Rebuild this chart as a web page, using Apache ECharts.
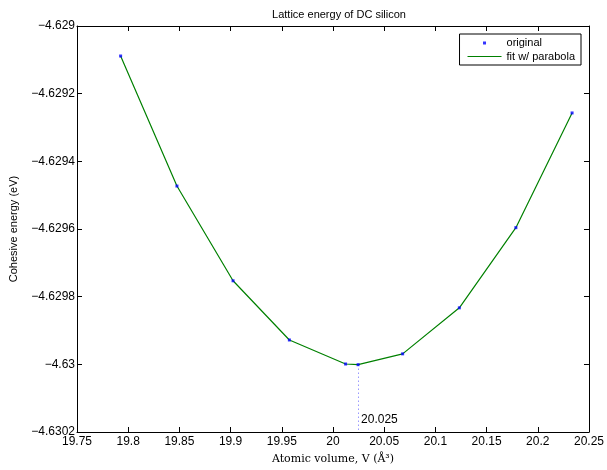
<!DOCTYPE html>
<html>
<head>
<meta charset="utf-8">
<script src="https://cdn.jsdelivr.net/npm/echarts@6/dist/echarts.min.js"></script>
<style>
  html, body { margin: 0; padding: 0; background: #fff; }
  #chart { width: 607px; height: 470px; }
</style>
</head>
<body>
<div id="chart"></div>
<script>
// volumes (A^3) and cohesive energies (eV)
const volumes = [19.7926, 19.8476, 19.9024, 19.9574, 20.0123, 20.0245, 20.068, 20.1234, 20.1786, 20.2335];
const energies = [-4.6290887, -4.6294730, -4.6297530, -4.6299280, -4.6299990, -4.6300010, -4.6299690, -4.6298330, -4.6295960, -4.6292570];
const minVolume = 20.0245;
const minLabel = "20.025";

const xTicks = { min: 19.75, max: 20.25, step: 0.05 };
const yTicks = { min: -4.6302, max: -4.629, step: 0.0002 };

const font = "'Liberation Sans', Arial, sans-serif";

const pts = volumes.map((v, i) => [v, energies[i]]);

const fmtX = (v) => String(+v.toFixed(4));
const fmtY = (v) => String(+v.toFixed(4)).replace("-", "\u2212");

const baseAxis = {
  axisLine: { onZero: false, lineStyle: { color: "#000", width: 1 } },
  axisTick: { inside: true, length: 5, lineStyle: { color: "#000" } },
  splitLine: { show: false },
};

var myChart = echarts.init(document.getElementById("chart"));

myChart.setOption({
  animation: false,
  backgroundColor: "#fff",
  title: {
    text: "Lattice energy of DC silicon",
    left: 334,
    textAlign: "center",
    top: 4,
    textStyle: { fontFamily: font, fontSize: 11, fontWeight: "normal", color: "#000" },
  },
  grid: { left: 76, right: 15, top: 26, bottom: 38 },
  legend: {
    right: 26,
    top: 34,
    orient: "vertical",
    itemWidth: 34,
    itemHeight: 10,
    itemGap: 3,
    padding: [3, 6, 3, 8],
    borderColor: "#000",
    borderWidth: 1,
    backgroundColor: "#fff",
    textStyle: { fontFamily: font, fontSize: 11, color: "#000" },
    data: [
      { name: "original", icon: "path://M15.5,4 h3 v3 h-3 Z M0,0 h0.01 v0.01 h-0.01 Z M33.99,9.99 h0.01 v0.01 h-0.01 Z" },
      { name: "fit w/ parabola", icon: "path://M0,4.5 h34 v1.2 h-34 Z" },
    ],
  },
  xAxis: [
    Object.assign({}, baseAxis, {
      type: "value",
      min: xTicks.min,
      max: xTicks.max,
      interval: xTicks.step,
      name: "Atomic volume, V (Å³)",
      nameLocation: "middle",
      nameGap: 22,
      nameTextStyle: { fontFamily: "'DejaVu Serif', 'Liberation Serif', serif", fontSize: 11, color: "#000" },
      axisLabel: { formatter: fmtX, fontFamily: font, fontSize: 12, color: "#000", margin: 4 },
    }),
    Object.assign({}, baseAxis, {
      type: "value",
      position: "top",
      min: xTicks.min,
      max: xTicks.max,
      interval: xTicks.step,
      axisLabel: { show: false },
    }),
  ],
  yAxis: [
    Object.assign({}, baseAxis, {
      type: "value",
      min: yTicks.min,
      max: yTicks.max,
      interval: yTicks.step,
      name: "Cohesive energy (eV)",
      nameLocation: "middle",
      nameGap: 58,
      nameTextStyle: { fontFamily: font, fontSize: 11, color: "#000" },
      axisLabel: { formatter: fmtY, fontFamily: font, fontSize: 12, color: "#000", margin: 2 },
    }),
    Object.assign({}, baseAxis, {
      type: "value",
      position: "right",
      min: yTicks.min,
      max: yTicks.max,
      interval: yTicks.step,
      axisLabel: { show: false },
    }),
  ],
  series: [
    {
      name: "fit w/ parabola",
      type: "line",
      data: pts,
      showSymbol: false,
      color: "#008000",
      lineStyle: { color: "#008000", width: 1.2 },
      markLine: {
        silent: true,
        symbol: "none",
        label: { show: false },
        lineStyle: { color: "#6666ff", type: [1, 3], width: 1 },
        data: [[{ coord: [minVolume, energies[5]] }, { coord: [minVolume, yTicks.min] }]],
      },
      markPoint: {
        symbolSize: 0,
        data: [{ coord: [minVolume, -4.630163] }],
        label: {
          show: true,
          position: "right",
          distance: 3,
          formatter: minLabel,
          fontFamily: font,
          fontSize: 12,
          color: "#000",
        },
      },
    },
    {
      name: "original",
      type: "scatter",
      data: pts,
      symbol: "rect",
      symbolSize: 3,
      color: "#0000ff",
      itemStyle: { color: "#0000ff" },
      z: 5,
    },
  ],
});
</script>
</body>
</html>
